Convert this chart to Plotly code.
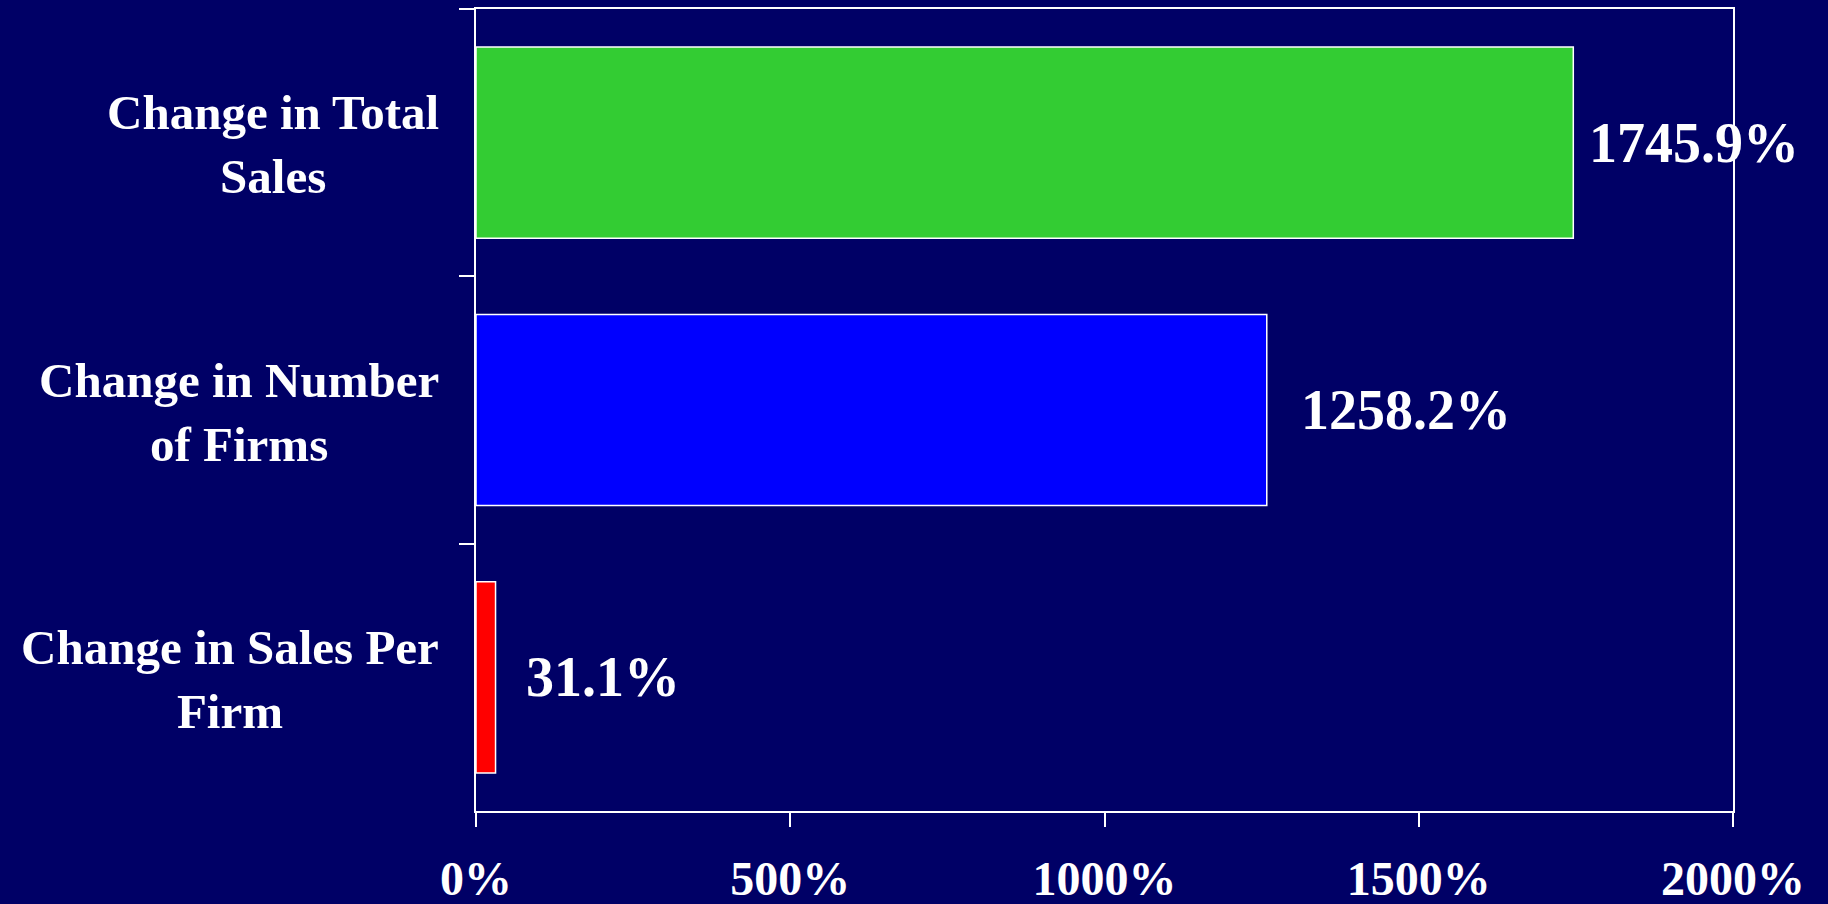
import plotly.graph_objects as go

# Category names (line breaks as drawn), values in percent, bar fills
categories = ["Change in Total<br>Sales", "Change in Number<br>of Firms", "Change in Sales Per<br>Firm"]
values = [1745.9, 1258.2, 31.1]
bar_colors = ["#33CC33", "#0000FF", "#FF0000"]
value_labels = ["1745.9%", "1258.2%", "31.1%"]
x_tickvals = [0, 500, 1000, 1500, 2000]
x_ticktext = ["0%", "500%", "1000%", "1500%", "2000%"]

BG = "#000066"
SERIF = "Liberation Serif, Times New Roman, serif"

fig = go.Figure(
    go.Bar(
        x=values,
        y=categories,
        orientation="h",
        marker=dict(color=bar_colors, line=dict(color="white", width=1.5)),
        width=0.715,
        hoverinfo="skip",
    )
)

# value labels to the right of each bar
label_shift = [14, 32, 28]
for cat, val, txt, dx in zip(categories, values, value_labels, label_shift):
    fig.add_annotation(
        x=val, y=cat, xref="x", yref="y", text=txt, showarrow=False,
        xanchor="left", yanchor="middle", xshift=dx,
        font=dict(family=SERIF, size=56, color="white", weight="bold"),
    )

# category labels, centred block right-aligned to the axis
for cat in categories:
    fig.add_annotation(
        x=0, y=cat, xref="paper", yref="y", text=cat, showarrow=False,
        xanchor="right", yanchor="middle", xshift=-35, yshift=-2, align="center",
        font=dict(family=SERIF, size=49, color="white", weight="bold"),
    )

fig.update_layout(
    width=1828, height=904,
    margin=dict(l=476, r=95, t=9, b=93),
    paper_bgcolor=BG, plot_bgcolor=BG,
    showlegend=False,
    bargap=0.285,
    xaxis=dict(
        range=[0, 2000], tickvals=x_tickvals, ticktext=x_ticktext,
        showgrid=False, zeroline=False, automargin=False,
        showline=True, linecolor="white", linewidth=2, mirror=True,
        ticks="outside", ticklen=14, tickwidth=2, tickcolor="white",
        ticklabelstandoff=10,
        tickfont=dict(family=SERIF, size=48, color="white", weight="bold"),
        fixedrange=True,
    ),
    yaxis=dict(
        autorange="reversed", showticklabels=False,
        showgrid=False, zeroline=False, automargin=False,
        showline=True, linecolor="white", linewidth=2, mirror=True,
        ticks="outside", ticklen=15, tickwidth=2, tickcolor="white",
        tickson="boundaries",
        fixedrange=True,
    ),
)

fig.write_html("out.html", config={"displayModeBar": False})
